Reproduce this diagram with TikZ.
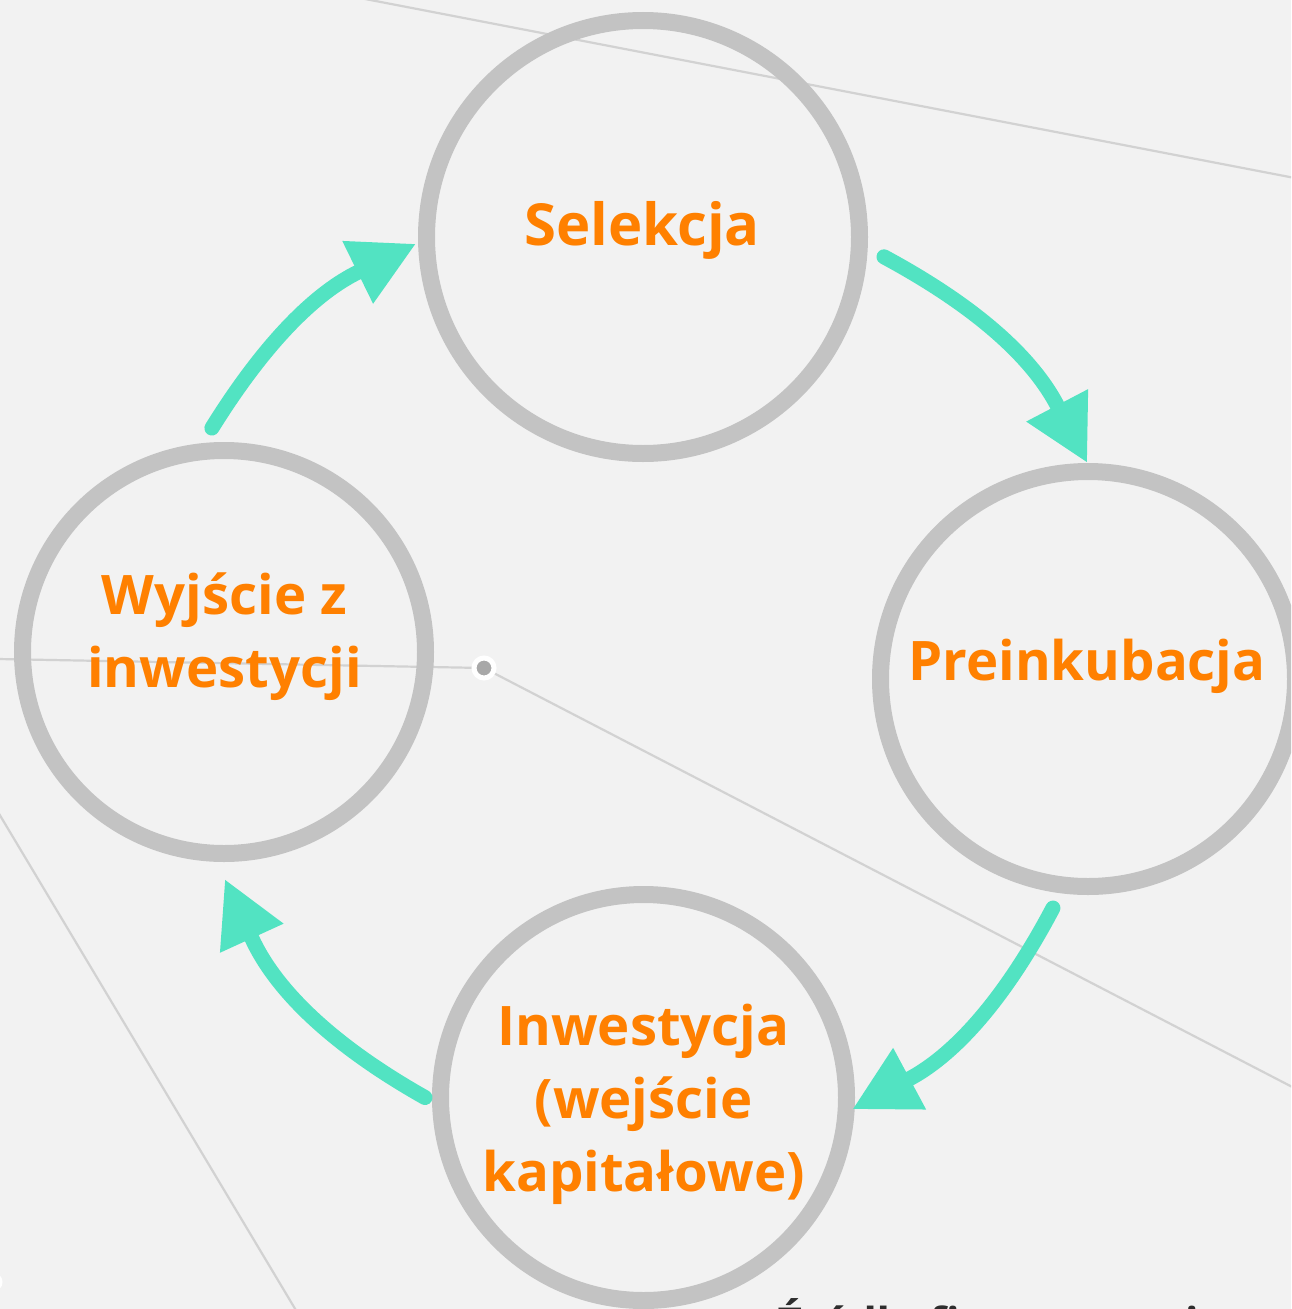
\documentclass[tikz,border=0pt]{standalone}
\usepackage{fontspec}
\setmainfont{Open Sans}
\usetikzlibrary{arrows.meta,calc}
\definecolor{bgc}{RGB}{242,242,242}
\definecolor{ringc}{RGB}{195,195,195}
\definecolor{orng}{RGB}{255,128,0}
\definecolor{flowc}{RGB}{82,227,194}
\definecolor{bglc}{RGB}{210,210,210}
\definecolor{dotc}{RGB}{168,168,168}
\definecolor{darkc}{RGB}{45,45,45}
\begin{document}
\begin{tikzpicture}[x=1pt,y=-1pt,
  ring/.style={circle,draw=ringc,line width=17pt,inner sep=0pt,outer sep=0pt},
  steptext/.style={text=orng,font=\fontsize{54.5}{73}\selectfont\bfseries,align=center,inner sep=0pt},
  flow/.style={draw=flowc,line width=15pt,line cap=round,
    -{Triangle[length=64pt,width=70pt,line width=0pt]}},
  bgline/.style={draw=bglc,line width=2.2pt},
  hubdot/.style={circle,fill=dotc,draw=white,line width=5pt,minimum size=20pt,inner sep=0pt}]
\useasboundingbox (0,0) rectangle (1291,1309);
\fill[bgc] (0,0) rectangle (1291,1309);
\clip (0,0) rectangle (1291,1309);

% faint background connector lines
\coordinate (hub) at (484,668);
\coordinate (e1a) at (360,-2);
\coordinate (e1b) at (1300,179);
\coordinate (e2) at (-2,659);
\coordinate (e3) at (1300,1091);
\coordinate (e4a) at (-2,812);
\coordinate (e4b) at (297,1312);
\draw[bgline] (e1a) -- (e1b);
\draw[bgline] (e2) -- (hub);
\draw[bgline] (hub) -- (e3);
\draw[bgline] (e4a) -- (e4b);

% circles
\node[ring,minimum size=433pt] (sel) at (643,237) {};
\node[ring,minimum size=415pt] (pre) at (1088,679) {};
\node[ring,minimum size=403pt] (wyj) at (224,652) {};
\node[ring,minimum size=406pt] (inw) at (643.5,1097.5) {};

% hub dots
\node[hubdot] (hubn) at (hub) {};
\node[hubdot,minimum size=16pt,line width=3pt] (edgedot) at (-7,1282) {};

% texts
\node[steptext,font=\fontsize{58}{73}\selectfont\bfseries,anchor=base] (tsel) at (642,245) {Selekcja};
\node[steptext,anchor=base] (tpre) at (1087,680) {Preinkubacja};
\node[steptext] (twyj) at (224.5,637) {Wyjście z\\inwestycji};
\node[steptext] (tinw) at (643.5,1104) {Inwestycja\\(wejście\\kapitałowe)};
\node[text=darkc,font=\fontsize{44}{52}\selectfont\bfseries,anchor=base west,inner sep=0pt] (src) at (777,1339) {Źródła finansowania startupów};

% arrow end points
\coordinate (a1s) at ($(wyj.center)+(93.1:224.3pt)$);
\coordinate (a1e) at ($(sel.center)+(181.8:228pt)$);
\coordinate (a2s) at ($(sel.center)+(-4.7:241.8pt)$);
\coordinate (a2e) at ($(pre.center)+(90.3:217pt)$);
\coordinate (a3s) at ($(pre.center)+(261.3:231.7pt)$);
\coordinate (a3e) at ($(inw.center)+(-3.1:210pt)$);
\coordinate (a4s) at ($(inw.center)+(180:218.5pt)$);
\coordinate (a4e) at ($(wyj.center)+(270.3:228pt)$);

\draw[flow] (a1s) to[bend left=16] (a1e);
\draw[flow] (a2s) to[bend left=17] (a2e);
\draw[flow] (a3s) to[bend left=17] (a3e);
\draw[flow] (a4s) to[bend left=18] (a4e);
\end{tikzpicture}
\end{document}
